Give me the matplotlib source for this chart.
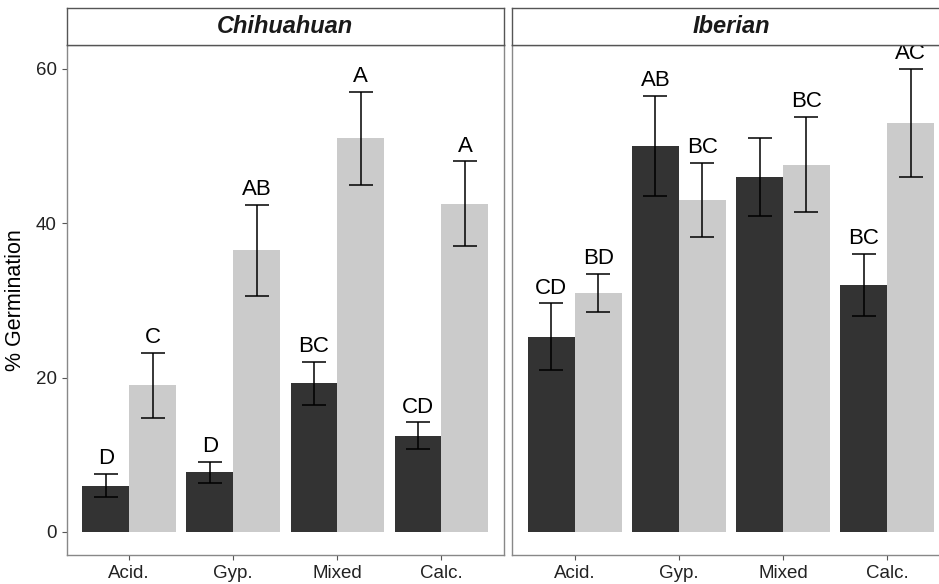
import matplotlib.pyplot as plt
import numpy as np

plt.rcParams["font.family"] = ["Liberation Sans", "DejaVu Sans"]

soils = ["Acid.", "Gyp.", "Mixed", "Calc."]
regions = ["Chihuahuan", "Iberian"]

# mean % germination and standard error, dark / light series per region
chi_dark = [6.0, 7.7, 19.25, 12.45]
chi_dark_se = [1.5, 1.4, 2.8, 1.75]
chi_light = [19.0, 36.5, 51.0, 42.5]
chi_light_se = [4.2, 5.9, 6.0, 5.5]

ibe_dark = [25.3, 50.0, 46.0, 32.0]
ibe_dark_se = [4.3, 6.5, 5.1, 4.0]
ibe_light = [31.0, 43.0, 47.6, 53.0]
ibe_light_se = [2.45, 4.85, 6.2, 7.0]

chi_dark_lab = ["D", "D", "BC", "CD"]
chi_light_lab = ["C", "AB", "A", "A"]
ibe_dark_lab = ["CD", "AB", "", "BC"]
ibe_light_lab = ["BD", "BC", "BC", "AC"]

DARK = "#333333"
LIGHT = "#cbcbcb"
W = 0.45

fig = plt.figure(figsize=(9.39, 5.84), dpi=100)

panels = [
    (0.0710, regions[0], chi_dark, chi_dark_se, chi_light, chi_light_se, chi_dark_lab, chi_light_lab),
    (0.5456, regions[1], ibe_dark, ibe_dark_se, ibe_light, ibe_light_se, ibe_dark_lab, ibe_light_lab),
]

x = np.arange(1, len(soils) + 1)
for i, (left, name, dk, dk_se, lt, lt_se, dk_lab, lt_lab) in enumerate(panels):
    ax = fig.add_axes([left, 0.0497, 0.4657, 0.8733])
    for xs, vals, err, col, labs in [
        (x - W / 2, dk, dk_se, DARK, dk_lab),
        (x + W / 2, lt, lt_se, LIGHT, lt_lab),
    ]:
        ax.bar(xs, vals, width=W, color=col, linewidth=0)
        ax.errorbar(xs, vals, yerr=err, fmt="none", ecolor="black",
                    elinewidth=1.1, capsize=8.8, capthick=1.1)
        for xi, v, e, lab in zip(xs, vals, err, labs):
            if lab:
                ax.annotate(lab, (xi, v + e), xytext=(0, 7), textcoords="offset points",
                            ha="center", va="baseline", fontsize=16, color="black")

    ax.set_xlim(0.4, 4.6)
    ax.set_ylim(-3.0, 63.1)
    ax.set_xticks(x)
    ax.set_xticklabels(soils, fontsize=13.5, color="#222222")
    ax.set_yticks([0, 20, 40, 60])
    ax.tick_params(axis="both", direction="out", length=3.5, width=0.8, color="#555555")
    ax.tick_params(axis="x", pad=4)
    if i == 0:
        ax.set_yticklabels(["0", "20", "40", "60"], fontsize=13.5, color="#222222")
        ax.set_ylabel("% Germination", fontsize=15.5, labelpad=7)
    else:
        ax.tick_params(axis="y", left=False, labelleft=False)
    for sp in ax.spines.values():
        sp.set_color("#888888")
        sp.set_linewidth(1.0)

    # facet strip above each panel
    strip = fig.add_axes([left, 0.9229, 0.4657, 0.0634])
    strip.set_xticks([])
    strip.set_yticks([])
    for sp in strip.spines.values():
        sp.set_color("#555555")
        sp.set_linewidth(1.0)
    strip.text(0.5, 0.5, name, ha="center", va="center", fontsize=17,
               fontweight="bold", fontstyle="italic", color="#1a1a1a",
               transform=strip.transAxes)

fig.savefig("out.png", dpi=100)
